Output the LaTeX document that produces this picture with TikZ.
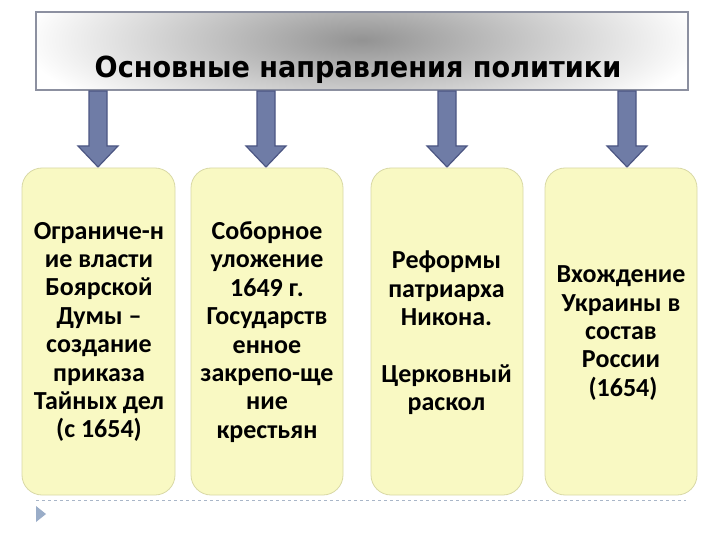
\documentclass[tikz,border=0pt]{standalone}
\usepackage{fontspec}
\setmainfont{Carlito}
\newfontfamily\titlefont[FakeStretch=0.935]{DejaVu Sans}
\begin{document}
\begin{tikzpicture}[x=1pt,y=-1pt,
  arr/.style={fill=arrfill,draw=arrdraw,line width=1.2pt,line join=miter},
  card/.style={fill=cardfill,draw=carddraw,line width=0.8pt,rounded corners=20pt},
  cardtext/.style={align=center,font=\fontsize{26}{28.4}\selectfont\bfseries,text=black,inner sep=0pt}]
\definecolor{arrfill}{HTML}{6F7CA6}
\definecolor{arrdraw}{HTML}{4C5683}
\definecolor{cardfill}{HTML}{F9F9C3}
\definecolor{carddraw}{HTML}{D9D9A6}
\definecolor{tborder}{HTML}{8C90A0}
\definecolor{dashc}{HTML}{A9B6C8}
\definecolor{tric}{HTML}{9AADC8}
\useasboundingbox (0,0) rectangle (720,540);
\fill[white] (0,0) rectangle (720,540);
% title box
\begin{scope}
\clip (36,12) rectangle (688,90);
\fill[white] (36,12) rectangle (688,90);
\shade[inner color=gray!85, outer color=white] (362,40) ellipse (340 and 95);
\end{scope}
\draw[tborder,line width=1.2pt] (36,12) rectangle (688,90);
\node[font=\titlefont\bfseries\fontsize{29}{32}\selectfont,anchor=base,inner sep=0pt] (title) at (358,78) {Основные направления политики};
% arrows
\foreach \cx in {98,266,447,627}{
  \draw[arr] (\cx-9,91) -- (\cx+9,91) -- (\cx+9,146) -- (\cx+20,146) -- (\cx,167) -- (\cx-20,146) -- (\cx-9,146) -- cycle;
}
% cards
\draw[card] (22,168) rectangle (175,495);
\draw[card] (191,168) rectangle (343,495);
\draw[card] (371,168) rectangle (523,495);
\draw[card] (545,168) rectangle (697,495);
\node[cardtext] (c1) at (99,332) {Ограниче-н\\ие власти\\Боярской\\Думы –\\создание\\приказа\\Тайных дел\\(с 1654)};
\node[cardtext] (c2) at (267,332) {Соборное\\уложение\\1649 г.\\Государств\\енное\\закрепо-ще\\ние\\крестьян};
\node[cardtext] (c3) at (446.5,333) {Реформы\\патриарха\\Никона.\\ \\Церковный\\раскол};
\node[cardtext] (c4) at (621,333) {Вхождение\\Украины в\\состав\\России\hspace{4pt}\\\hspace{4pt}(1654)};
% bottom dashed line and bullet
\draw[dashc,dashed,line width=0.6pt] (36,500.5) -- (686,500.5);
\fill[tric] (36,506) -- (46,514) -- (36,522) -- cycle;
\end{tikzpicture}
\end{document}
